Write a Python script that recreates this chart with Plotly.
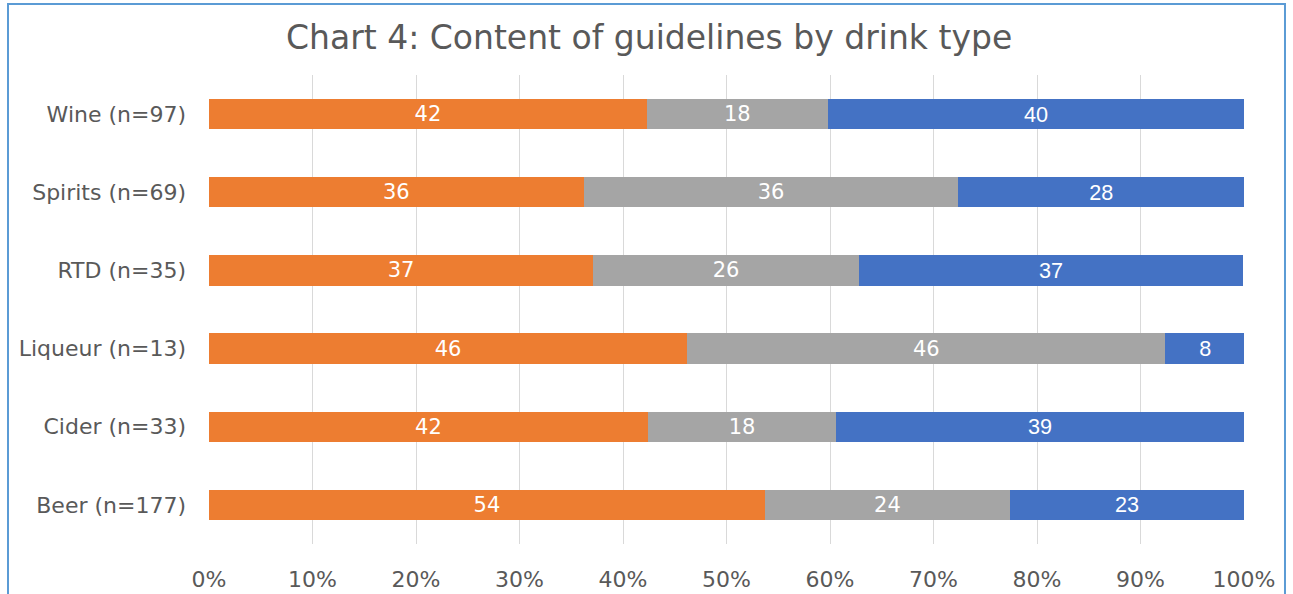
import plotly.graph_objects as go

categories = ["Wine (n=97)", "Spirits (n=69)", "RTD (n=35)", "Liqueur (n=13)", "Cider (n=33)", "Beer (n=177)"]
series_a = [42.3, 36.2, 37.1, 46.2, 42.4, 53.7]   # orange
series_b = [17.5, 36.2, 25.7, 46.2, 18.2, 23.7]   # grey
series_c = [40.2, 27.6, 37.1, 7.7, 39.4, 22.6]    # blue
x_ticks = [0, 10, 20, 30, 40, 50, 60, 70, 80, 90, 100]
x_tick_labels = [f"{v}%" for v in x_ticks]

FONT = "DejaVu Sans"
GREY_TXT = "#595959"

fig = go.Figure()
fig.add_trace(go.Bar(y=categories, x=series_a, orientation="h", marker=dict(color="#ED7D31", line=dict(width=0)),
                     texttemplate="%{x:.0f}", textposition="inside", insidetextanchor="middle", textangle=0,
                     textfont=dict(family=FONT, size=21, color="white"), name="A"))
fig.add_trace(go.Bar(y=categories, x=series_b, orientation="h", marker=dict(color="#A5A5A5", line=dict(width=0)),
                     texttemplate="%{x:.0f}", textposition="inside", insidetextanchor="middle", textangle=0,
                     textfont=dict(family=FONT, size=21, color="white"), name="B"))
fig.add_trace(go.Bar(y=categories, x=series_c, orientation="h", marker=dict(color="#4472C4", line=dict(width=0)),
                     texttemplate="%{x:.0f}", textposition="inside", insidetextanchor="middle", textangle=0,
                     textfont=dict(family="Liberation Sans", size=23, color="white"), name="C"))

fig.update_layout(
    barmode="stack",
    bargap=0.61,
    width=1293, height=594,
    margin=dict(l=209, r=49, t=75, b=50, autoexpand=False),
    paper_bgcolor="white", plot_bgcolor="white",
    showlegend=False,
    title=dict(text="Chart 4: Content of guidelines by drink type", x=0.502, xanchor="center", y=0.937, yanchor="middle",
               font=dict(family=FONT, size=33, color=GREY_TXT)),
    xaxis=dict(range=[0, 100], tickvals=x_ticks, ticktext=x_tick_labels, showgrid=True, gridcolor="#D9D9D9", gridwidth=1,
               zeroline=False, showline=False, ticks="", ticklabelstandoff=20, automargin=False,
               tickfont=dict(family=FONT, size=22, color=GREY_TXT)),
    yaxis=dict(autorange="reversed", showgrid=False, zeroline=False, showline=False, ticks="", ticklabelstandoff=22,
               automargin=False, tickfont=dict(family=FONT, size=22, color=GREY_TXT)),
    shapes=[dict(type="rect", xref="paper", yref="paper", x0=-0.1942, x1=1.0396, y0=-0.3, y1=1.1514,
                 line=dict(color="#5B9BD5", width=2), fillcolor="rgba(0,0,0,0)", layer="below")],
)
fig.write_html("out.html", config={"displayModeBar": False},
               post_script="document.body.style.margin='0';")
